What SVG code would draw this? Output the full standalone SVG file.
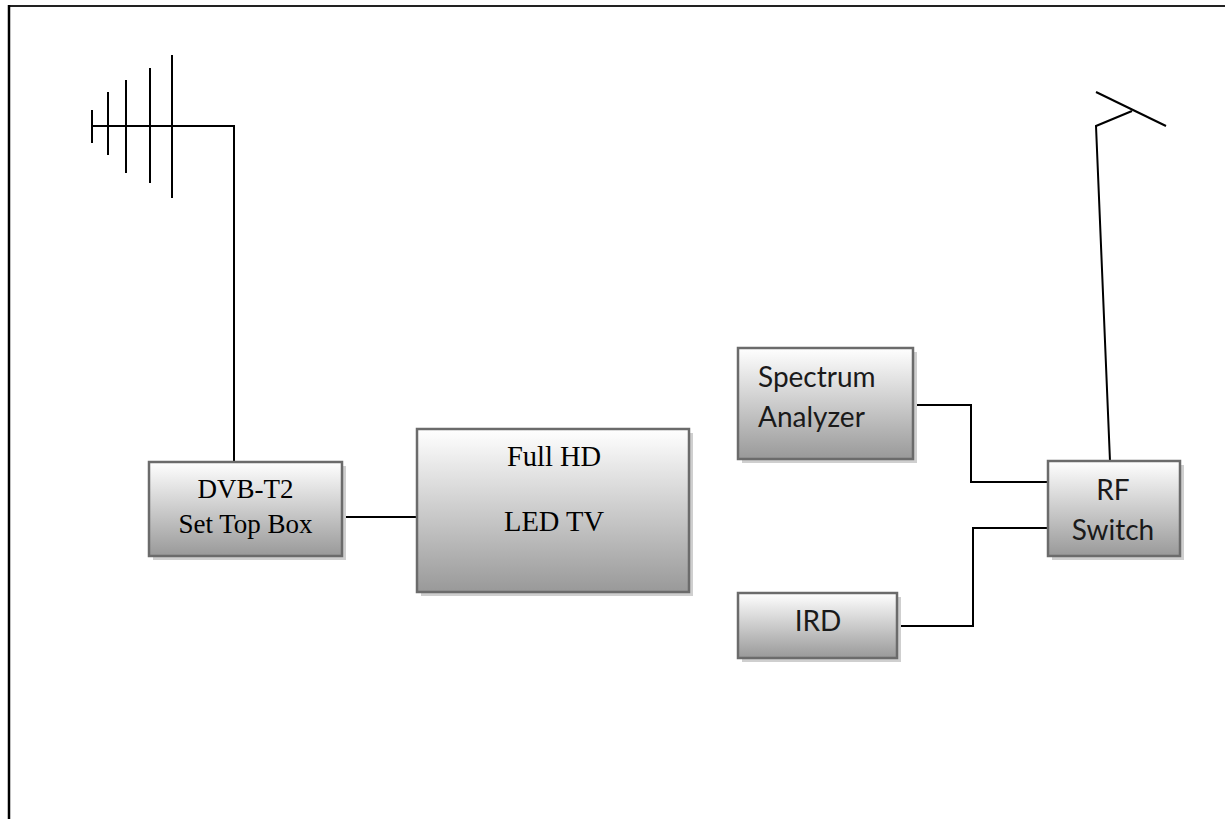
<svg xmlns="http://www.w3.org/2000/svg" width="1225" height="819" viewBox="0 0 1225 819">
<defs>
<linearGradient id="g" x1="0" y1="0" x2="0" y2="1">
<stop offset="0" stop-color="#ffffff"/>
<stop offset="1" stop-color="#999999"/>
</linearGradient>
<style>
.box{fill:url(#g);stroke:#6b6b6b;stroke-width:2.5}
.sh{fill:#cfcfcf}
.ln{fill:none;stroke:#000;stroke-width:2}
.serif{font-family:"Liberation Serif","Times New Roman",serif;font-size:27px;fill:#000;text-anchor:middle}
.sans{font-family:Lato,"Noto Sans","Liberation Sans",sans-serif;font-size:28px;fill:#1a1a1a}
</style>
</defs>
<rect width="1225" height="819" fill="#fff"/>
<g id="frame">
<line x1="9" y1="6" x2="1225" y2="6" stroke="#222" stroke-width="2"/>
<line x1="9" y1="5" x2="9" y2="819" stroke="#000" stroke-width="2.5"/>
</g>
<g id="connectors">
<polyline class="ln" points="92,126 234,126 234,462"/>
<line class="ln" x1="92" y1="110" x2="92" y2="143"/>
<line class="ln" x1="108" y1="92" x2="108" y2="155"/>
<line class="ln" x1="126" y1="80" x2="126" y2="173"/>
<line class="ln" x1="150" y1="68" x2="150" y2="183"/>
<line class="ln" x1="172" y1="55" x2="172" y2="198"/>
<line class="ln" x1="1096" y1="92" x2="1166" y2="126"/>
<polyline class="ln" points="1132,111 1096,126 1110,461"/>
<line class="ln" x1="342" y1="517" x2="417" y2="517"/>
<polyline class="ln" points="913,405 971,405 971,482 1048,482"/>
<polyline class="ln" points="897,626 973,626 973,528 1048,528"/>
</g>
<g id="dvb">
<rect class="sh" x="153" y="466" width="193" height="94"/>
<rect class="box" x="149" y="462" width="193" height="94"/>
<text class="serif" x="245.5" y="498">DVB-T2</text>
<text class="serif" x="245.5" y="533">Set Top Box</text>
</g>
<g id="tv">
<rect class="sh" x="421" y="433" width="272" height="163"/>
<rect class="box" x="417" y="429" width="272" height="163"/>
<text class="serif" x="554" y="466" style="font-size:28.5px">Full HD</text>
<text class="serif" x="554" y="531" style="font-size:28.5px">LED TV</text>
</g>
<g id="spectrum">
<rect class="sh" x="742" y="352" width="175" height="111"/>
<rect class="box" x="738" y="348" width="175" height="111"/>
<text class="sans" x="758" y="387">Spectrum</text>
<text class="sans" x="758" y="427">Analyzer</text>
</g>
<g id="rfswitch">
<rect class="sh" x="1052" y="465" width="132" height="95"/>
<rect class="box" x="1048" y="461" width="132" height="95"/>
<text class="sans" x="1113" y="500" text-anchor="middle">RF</text>
<text class="sans" x="1113" y="540" text-anchor="middle">Switch</text>
</g>
<g id="ird">
<rect class="sh" x="742" y="597" width="159" height="65"/>
<rect class="box" x="738" y="593" width="159" height="65"/>
<text class="sans" x="818" y="631" text-anchor="middle">IRD</text>
</g>
</svg>
